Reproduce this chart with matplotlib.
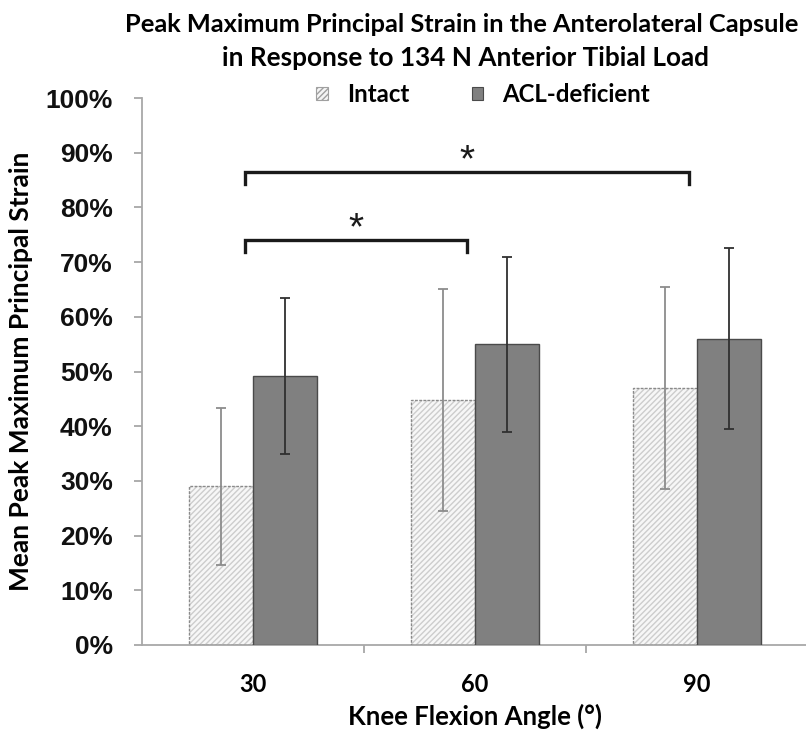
import matplotlib
matplotlib.use("Agg")
import matplotlib.pyplot as plt
import numpy as np
from matplotlib.ticker import PercentFormatter
from matplotlib.patches import Patch

# ---- data ----
angles = ["30", "60", "90"]
intact_mean = [29.0, 44.8, 47.0]
intact_sd = [14.3, 20.3, 18.4]
acl_mean = [49.2, 55.0, 56.0]
acl_sd = [14.2, 16.0, 16.6]
series_names = ["Intact", "ACL-deficient"]
yticks = [0, 10, 20, 30, 40, 50, 60, 70, 80, 90, 100]
# significance brackets: (group_from, group_to, level %)
sig_pairs = [(0, 1, 74.0), (0, 2, 86.5)]

TITLE_FONT = ["Lato", "DejaVu Sans"]
TICK_FONT = ["Liberation Sans", "DejaVu Sans"]

fig = plt.figure(figsize=(8.06, 7.34), dpi=100)
ax = fig.add_axes([142/806, 89/734, 666/806, 547/734])

x = np.arange(len(angles))
w = 0.288

# Intact bars: hatched fill + dashed outline
ax.bar(x - w/2, intact_mean, w, color="#f7f7f7", edgecolor="#cdcdcd",
       hatch="//////", linewidth=0, zorder=2)
ax.bar(x - w/2, intact_mean, w, color="none", edgecolor="#8a8a8a",
       linewidth=1.0, linestyle=(0, (2, 1)), zorder=3)
ax.errorbar(x - w/2, intact_mean, yerr=intact_sd, fmt="none",
            ecolor="#8c8c8c", elinewidth=1.3, capsize=3.8, capthick=1.3, zorder=4)

# ACL-deficient bars
ax.bar(x + w/2, acl_mean, w, color="#808080", edgecolor="#4a4a4a",
       linewidth=1.0, zorder=3)
ax.errorbar(x + w/2, acl_mean, yerr=acl_sd, fmt="none",
            ecolor="#303030", elinewidth=1.3, capsize=3.8, capthick=1.3, zorder=4)

# significance brackets
off = 0.035
drop = 2.2
for g0, g1, lev in sig_pairs:
    x0, x1 = x[g0] - off, x[g1] - off
    ax.plot([x0, x0, x1, x1], [lev - drop, lev, lev, lev - drop],
            color="#1a1a1a", lw=2.4, solid_joinstyle="miter", zorder=5,
            clip_on=False)
    ax.text((x0 + x1) / 2, lev + 0.1, "*", ha="center", va="baseline",
            fontsize=28, family=TICK_FONT, color="#1a1a1a")

ax.set_xlim(-0.5, 2.5)
ax.set_ylim(0, 100)
ax.set_yticks(yticks)
ax.yaxis.set_major_formatter(PercentFormatter(decimals=0))
ax.set_xticks(x)
ax.set_xticklabels(angles, family=TITLE_FONT, fontweight="bold", fontsize=17)
ax.set_xticks([0.5, 1.5], minor=True)
ax.tick_params(axis="x", which="major", length=0, pad=20)
ax.tick_params(axis="x", which="minor", length=6, color="#a0a0a0", width=1.2)
ax.tick_params(axis="y", length=6, color="#a0a0a0", width=1.2, pad=15)
for lab in ax.get_yticklabels():
    lab.set_family(TICK_FONT)
    lab.set_fontweight("bold")
    lab.set_fontsize(19)
    lab.set_color("#111111")

for s in ["top", "right"]:
    ax.spines[s].set_visible(False)
for s in ["left", "bottom"]:
    ax.spines[s].set_color("#a8a8a8")
    ax.spines[s].set_linewidth(1.3)

ax.set_xlabel("Knee Flexion Angle (°)", family=TITLE_FONT, fontweight="bold",
              fontsize=18.5)
ax.set_ylabel("Mean Peak Maximum Principal Strain", family=TITLE_FONT,
              fontweight="bold", fontsize=19)
ax.yaxis.set_label_coords(-0.163, 0.5)
ax.xaxis.set_label_coords(0.5, -0.108)

fig.text(462/806, 1 - 24/734, "Peak Maximum Principal Strain in the Anterolateral Capsule",
         ha="center", va="center", family=TITLE_FONT, fontweight="bold", fontsize=18.3)
fig.text(466/806, 1 - 58/734, "in Response to 134 N Anterior Tibial Load",
         ha="center", va="center", family=TITLE_FONT, fontweight="bold", fontsize=18.8)

handles = [Patch(facecolor="#f5f5f5", edgecolor="#a0a0a0", hatch="//////", linewidth=0.8),
           Patch(facecolor="#808080", edgecolor="#4a4a4a", linewidth=0.8)]
leg = ax.legend(handles, series_names, loc="center", bbox_to_anchor=(0.512, 1.006),
                ncol=2, frameon=False, handlelength=0.48, handleheight=0.48,
                handletextpad=0.8, columnspacing=2.6,
                prop={"family": TITLE_FONT, "weight": "bold", "size": 17.3})

fig.savefig("out.png", dpi=100)
